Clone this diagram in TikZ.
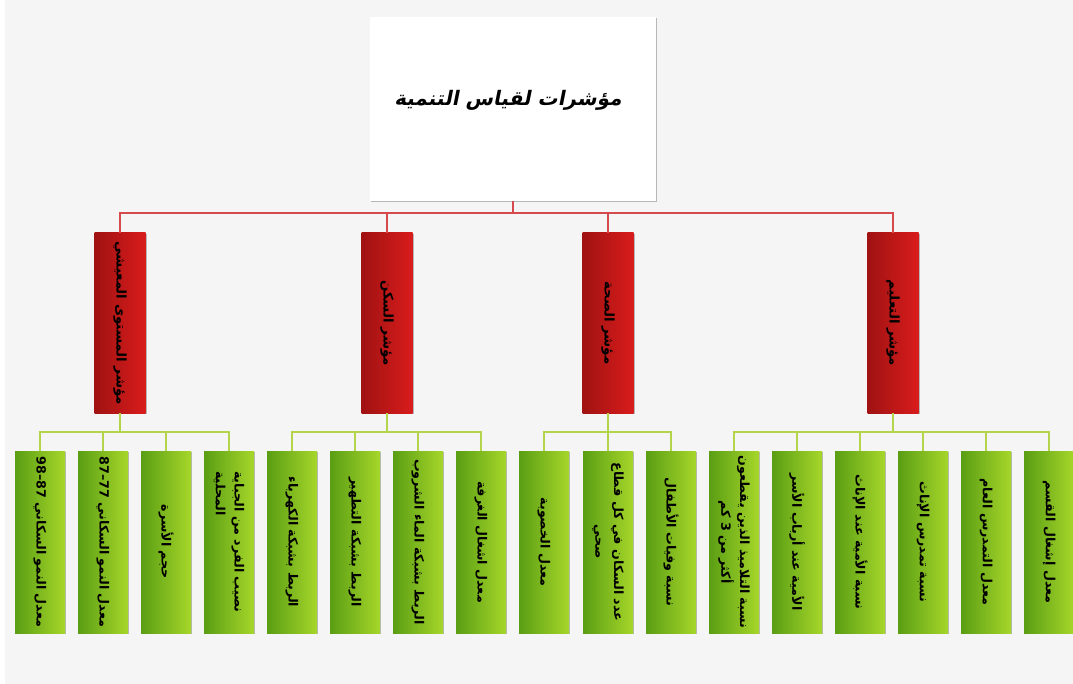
\documentclass[tikz,border=0pt]{standalone}
\usepackage{fontspec}
\usetikzlibrary{shadows}
\TeXXeTstate=1
\newfontfamily\arabicfont[Script=Arabic]{DejaVu Sans}
\newfontfamily\arabictitle[Script=Arabic,FakeSlant=0.2]{DejaVu Sans Bold}
\newcommand\artxt[1]{\beginR #1\endR}
\definecolor{bg}{HTML}{F5F5F5}
\definecolor{rdark}{HTML}{A01212}
\definecolor{rlight}{HTML}{D91C1C}
\definecolor{gdark}{HTML}{5A9E14}
\definecolor{glight}{HTML}{A6D62A}
\definecolor{rline}{HTML}{D64A4E}
\definecolor{gline}{HTML}{B4D44A}
\begin{document}
\begin{tikzpicture}[x=0.75pt,y=-0.75pt,
  box/.style={draw=none, inner sep=0pt,
    drop shadow={shadow xshift=1pt,shadow yshift=-1pt,opacity=0.25,fill=black}},
  titlebox/.style={box, fill=white, minimum width=214.5pt, minimum height=138pt},
  redbox/.style={box, left color=rdark, right color=rlight, minimum width=38.25pt, minimum height=135pt},
  greenbox/.style={box, left color=gdark, right color=glight, minimum width=37.5pt, minimum height=136.5pt},
  redtxt/.style={rotate=-90, inner sep=0pt, align=center, font=\arabicfont\bfseries\fontsize{10}{12}\selectfont},
  greentxt/.style={rotate=-90, inner sep=0pt, align=center, font=\arabicfont\bfseries\fontsize{9.5}{14}\selectfont},
  rline/.style={draw=rline, line width=1.3pt},
  gline/.style={draw=gline, line width=1.3pt}
]
\useasboundingbox (0,0) rectangle (1073,684);
\fill[white] (0,0) rectangle (1073,684);
\fill[bg] (5,0) rectangle (1073,684);

% title
\node[titlebox] (T) at (513,109) {};
\node[font=\arabictitle\fontsize{15}{18}\selectfont, inner sep=0pt] (Tt) at (508,100) {\artxt{مؤشرات لقياس التنمية}};

% red boxes
\node[redbox] (r1) at (120,323) {};
\node[redbox] (r2) at (387,323) {};
\node[redbox] (r3) at (608,323) {};
\node[redbox] (r4) at (893,323) {};
\node[redtxt] (r1t) at (r1.center) {\artxt{مؤشر المستوى المعيشي}};
\node[redtxt] (r2t) at (r2.center) {\artxt{مؤشر السكن}};
\node[redtxt] (r3t) at (r3.center) {\artxt{مؤشر الصحة}};
\node[redtxt] (r4t) at (r4.center) {\artxt{مؤشر التعليم}};

% green boxes
\foreach \i/\x in {1/40,2/103,3/166,4/229,5/292,6/355,7/418,8/481,9/544,10/608,11/671,12/734,13/797,14/860,15/923,16/986,17/1049}
  \node[greenbox] (g\i) at (\x,542) {};

\node[greentxt] (g1t) at (g1.center) {\artxt{معدل النمو السكاني \beginL 87–98\endL{}}};
\node[greentxt] (g2t) at (g2.center) {\artxt{معدل النمو السكاني \beginL 77–87\endL{}}};
\node[greentxt] (g3t) at (g3.center) {\artxt{حجم الأسرة}};
\node[greentxt, align=left] (g4t) at (g4.center) {\artxt{نصيب الفرد من الجباية}\\\artxt{المحلية}};
\node[greentxt] (g5t) at (g5.center) {\artxt{الربط بشبكة الكهرباء}};
\node[greentxt] (g6t) at (g6.center) {\artxt{الربط بشبكة التطهير}};
\node[greentxt] (g7t) at (g7.center) {\artxt{الربط بشبكة الماء الشروب}};
\node[greentxt] (g8t) at (g8.center) {\artxt{معدل اشغال الغرفة}};
\node[greentxt] (g9t) at (g9.center) {\artxt{معدل الخصوبة}};
\node[greentxt] (g10t) at (g10.center) {\artxt{عدد السكان في كل قطاع}\\\artxt{صحي}};
\node[greentxt] (g11t) at (g11.center) {\artxt{نسبة وفيات الأطفال}};
\node[greentxt] (g12t) at (g12.center) {\artxt{نسبة التلاميذ الذين يقطعون}\\\artxt{أكثر من 3 كم}};
\node[greentxt] (g13t) at (g13.center) {\artxt{الأمية عند أرباب الأسر}};
\node[greentxt] (g14t) at (g14.center) {\artxt{نسبة الأمية عند الإناث}};
\node[greentxt] (g15t) at (g15.center) {\artxt{نسبة تمدرس الإناث}};
\node[greentxt] (g16t) at (g16.center) {\artxt{معدل التمدرس العام}};
\node[greentxt] (g17t) at (g17.center) {\artxt{معدل إشغال القسم}};

% connectors title -> red
\coordinate (rbus) at (513,213);
\foreach \r in {r1,r2,r3,r4}
  \draw[rline] (T.south) -- (T.south |- rbus) -| (\r.north);

% connectors red -> green
\coordinate (gbus) at (0,432);
\foreach \r/\gs in {r1/{g1,g2,g3,g4},r2/{g5,g6,g7,g8},r3/{g9,g10,g11},r4/{g12,g13,g14,g15,g16,g17}}
  \foreach \g in \gs
    \draw[gline] (\r.south) -- (\r.south |- gbus) -| (\g.north);
\end{tikzpicture}
\end{document}
